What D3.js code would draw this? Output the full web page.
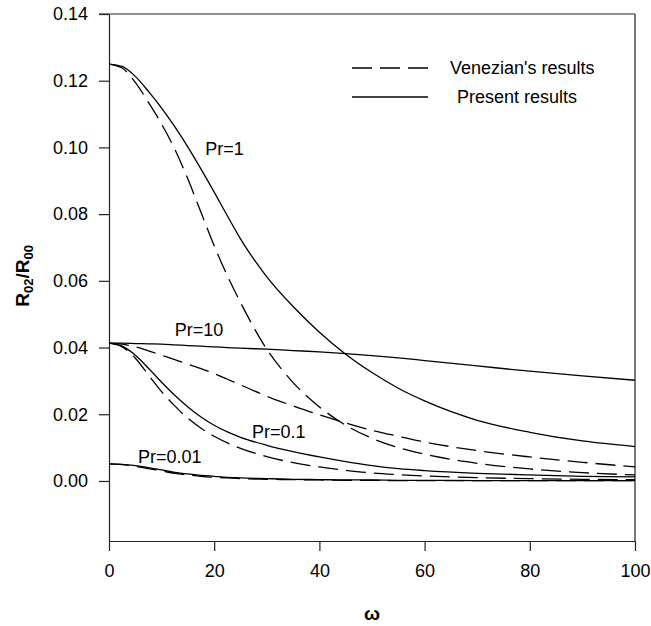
<!DOCTYPE html>
<html>
<head>
<meta charset="utf-8">
<script src="https://cdn.jsdelivr.net/npm/d3@7"></script>
<style>
  body { margin: 0; background: #fff; }
  svg { display: block; }
</style>
</head>
<body>
<div id="chart"></div>
<script>
// omega grid shared by all curves
const omega = [0, 2.5, 5, 7.5, 10, 12.5, 15, 17.5, 20, 22.5, 25, 30, 35, 40, 45, 50, 55, 60, 70, 80, 90, 100];

// Present results (solid)
const pr1Present = [0.125, 0.1243, 0.1213, 0.1168, 0.1118, 0.1062, 0.1001, 0.0935, 0.0866, 0.0795, 0.0726, 0.0612, 0.0523, 0.0446, 0.038, 0.0325, 0.0278, 0.024, 0.0182, 0.0146, 0.012, 0.0103];
const pr10Present = [0.0413, 0.0413, 0.0412, 0.0411, 0.041, 0.0408, 0.0406, 0.0404, 0.0402, 0.04, 0.0398, 0.0395, 0.0391, 0.0387, 0.0382, 0.0376, 0.0369, 0.0361, 0.0345, 0.0329, 0.0315, 0.0302];
const pr01Present = [0.0413, 0.0404, 0.0377, 0.0338, 0.0296, 0.0257, 0.0222, 0.0192, 0.0167, 0.0147, 0.0131, 0.0107, 0.0088, 0.0072, 0.0058, 0.0046, 0.0037, 0.0031, 0.0023, 0.0018, 0.0014, 0.0012];
const pr001Present = [0.0051, 0.005, 0.0046, 0.004, 0.0033, 0.0026, 0.0021, 0.0017, 0.0014, 0.0011, 0.0009, 0.0007, 0.0005, 0.0004, 0.0003, 0.0003, 0.0002, 0.0002, 0.0001, 0.0001, 0.0001, 0.0001];

// Venezian's results (dashed)
const pr1Venezian = [0.125, 0.1238, 0.1195, 0.1135, 0.107, 0.0995, 0.0905, 0.0805, 0.0705, 0.0615, 0.0535, 0.0395, 0.0295, 0.0222, 0.0167, 0.0128, 0.01, 0.008, 0.0053, 0.0036, 0.0025, 0.0018];
const pr10Venezian = [0.0413, 0.041, 0.0402, 0.039, 0.0377, 0.0364, 0.035, 0.0337, 0.0322, 0.0305, 0.0288, 0.0254, 0.0225, 0.0198, 0.0174, 0.0152, 0.0134, 0.0117, 0.0091, 0.0072, 0.0056, 0.0042];
const pr01Venezian = [0.0413, 0.0402, 0.0368, 0.0318, 0.0268, 0.0225, 0.0188, 0.0158, 0.0134, 0.0114, 0.0098, 0.0073, 0.0055, 0.0042, 0.0032, 0.0024, 0.0019, 0.0015, 0.001, 0.0007, 0.0005, 0.0004];
const pr001Venezian = [0.0051, 0.0049, 0.0044, 0.0037, 0.003, 0.0023, 0.0018, 0.0014, 0.0011, 0.0009, 0.0007, 0.0005, 0.0004, 0.0003, 0.0002, 0.0002, 0.0001, 0.0001, 0.0001, 0.0001, 0.0001, 0.0001];

const xTicks = [0, 20, 40, 60, 80, 100];
const yTicks = [0, 0.02, 0.04, 0.06, 0.08, 0.10, 0.12, 0.14];

// curve labels: text, omega, value
const curveLabels = [
    { text: 'Pr=1', w: 18.3, v: 0.0976 },
    { text: 'Pr=10', w: 12.5, v: 0.0434 },
    { text: 'Pr=0.1', w: 27.2, v: 0.0129 },
    { text: 'Pr=0.01', w: 5.5, v: 0.0054 }
];

const width = 651, height = 626;
const margin = { top: 14, right: 16, bottom: 85, left: 109 };
const font = '"Liberation Sans", Arial, Helvetica, sans-serif';

const svg = d3.select('#chart')
    .append('svg')
    .attr('width', width)
    .attr('height', height);

const x = d3.scaleLinear()
    .domain([0, 100])
    .range([margin.left, width - margin.right]);

const y = d3.scaleLinear()
    .domain([-0.018, 0.14])
    .range([height - margin.bottom, margin.top]);

// frame (top and right)
svg.append('line')
    .attr('x1', margin.left - 10).attr('x2', x(100))
    .attr('y1', y(0.14)).attr('y2', y(0.14))
    .style('stroke', '#222').style('stroke-width', 1.2);
svg.append('line')
    .attr('x1', x(100)).attr('x2', x(100))
    .attr('y1', y(0.14)).attr('y2', y(-0.018))
    .style('stroke', '#222').style('stroke-width', 1.2);

// axes
const xAxis = svg.append('g')
    .attr('transform', `translate(0,${y(-0.018)})`)
    .call(d3.axisBottom(x).tickValues(xTicks).tickSize(10).tickPadding(13).tickSizeOuter(0));

const yAxis = svg.append('g')
    .attr('transform', `translate(${margin.left},0)`)
    .call(d3.axisLeft(y).tickValues(yTicks).tickSize(10).tickPadding(11).tickSizeOuter(0)
        .tickFormat(d3.format('.2f')));

[xAxis, yAxis].forEach(a => {
    a.select('.domain').style('stroke', '#222').style('stroke-width', 1.2);
    a.selectAll('.tick line').style('stroke', '#222').style('stroke-width', 1.2);
    a.selectAll('.tick text')
        .style('font-family', font)
        .style('font-size', '18px')
        .style('fill', '#000');
});

// axis titles
svg.append('text')
    .attr('x', x(50))
    .attr('y', 620)
    .attr('text-anchor', 'middle')
    .style('font-family', font)
    .style('font-size', '19px')
    .style('font-weight', 'bold')
    .text('ω');

const yTitle = svg.append('text')
    .attr('transform', `translate(29,${y(0.0615)}) rotate(-90)`)
    .attr('text-anchor', 'middle')
    .style('font-family', font)
    .style('font-size', '19px')
    .style('font-weight', 'bold');
yTitle.append('tspan').text('R');
yTitle.append('tspan').attr('dy', 4).style('font-size', '13px').text('02');
yTitle.append('tspan').attr('dy', -4).text('/R');
yTitle.append('tspan').attr('dy', 4).style('font-size', '13px').text('00');

// curves
const line = d3.line()
    .x(d => x(d[0]))
    .y(d => y(d[1]))
    .curve(d3.curveMonotoneX);

const series = [
    { values: pr1Present, dashed: false },
    { values: pr10Present, dashed: false },
    { values: pr01Present, dashed: false },
    { values: pr001Present, dashed: false },
    { values: pr1Venezian, dashed: true },
    { values: pr10Venezian, dashed: true },
    { values: pr01Venezian, dashed: true },
    { values: pr001Venezian, dashed: true }
];

svg.selectAll('.curve')
    .data(series)
    .enter()
    .append('path')
    .attr('class', 'curve')
    .attr('d', d => line(omega.map((w, i) => [w, d.values[i]])))
    .style('fill', 'none')
    .style('stroke', '#000')
    .style('stroke-width', 1.3)
    .style('stroke-dasharray', d => d.dashed ? '20,8' : null);

// curve labels
svg.selectAll('.curveLabel')
    .data(curveLabels)
    .enter()
    .append('text')
    .attr('class', 'curveLabel')
    .attr('x', d => x(d.w))
    .attr('y', d => y(d.v))
    .style('font-family', font)
    .style('font-size', '18px')
    .style('fill', '#000')
    .text(d => d.text);

// legend
const legend = [
    { text: "Venezian's results", dashed: true, y: 68, tx: 450 },
    { text: 'Present results', dashed: false, y: 97, tx: 457 }
];
legend.forEach(l => {
    svg.append('line')
        .attr('x1', 352).attr('x2', 428)
        .attr('y1', l.y).attr('y2', l.y)
        .style('stroke', '#000')
        .style('stroke-width', 1.3)
        .style('stroke-dasharray', l.dashed ? '20,8' : null);
    svg.append('text')
        .attr('x', l.tx)
        .attr('y', l.y + 6)
        .style('font-family', font)
        .style('font-size', '18px')
        .style('fill', '#000')
        .text(l.text);
});
</script>
</body>
</html>
